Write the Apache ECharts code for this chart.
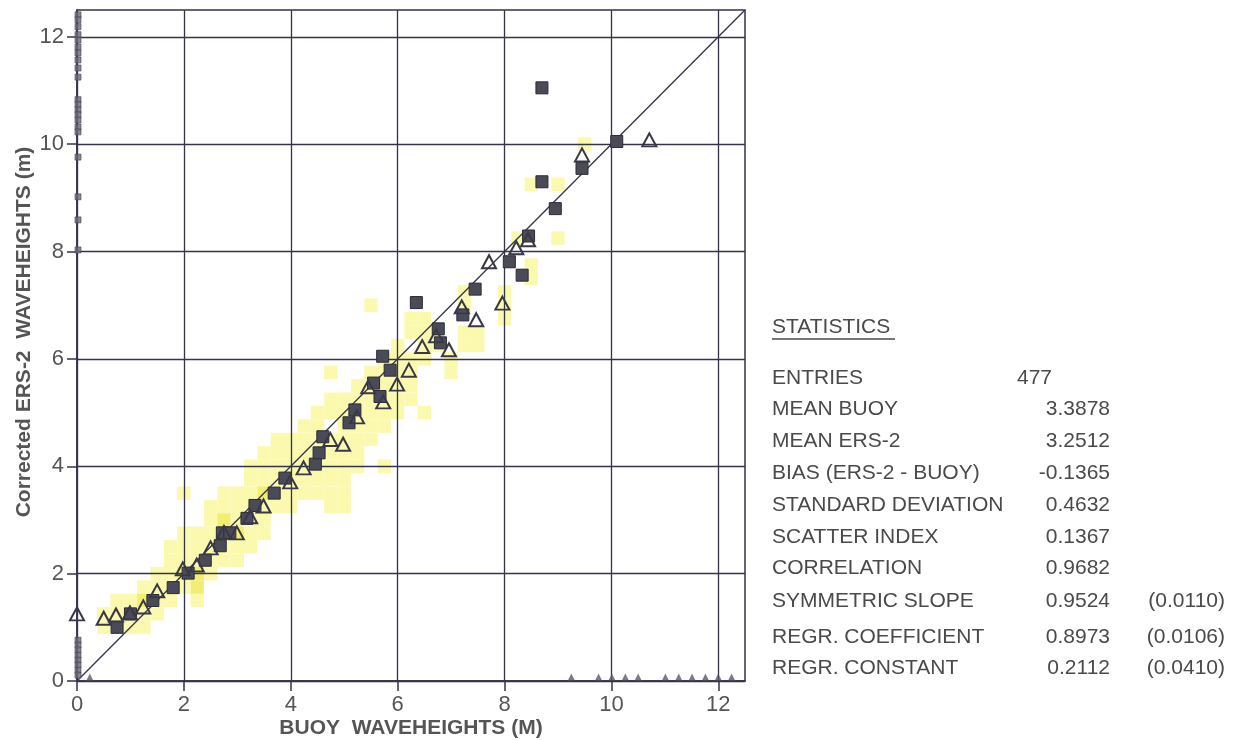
<!DOCTYPE html>
<html>
<head>
<meta charset="utf-8">
<script src="https://cdn.jsdelivr.net/npm/echarts@6/dist/echarts.min.js"></script>
<style>
html,body{margin:0;padding:0;background:#fff;}
#chart{width:1233px;height:740px;}
</style>
</head>
<body>
<div id="chart"></div>
<script>
// ---------------- data ----------------
const axisTicks = [0, 2, 4, 6, 8, 10, 12];
const axisMax = 12.5;
const binSize = 0.25;

// density cells (bin centres), pale and deeper yellow
const cellsPale = [
  [0.5,1.0],[0.5,1.25],
  [0.75,1.0],[0.75,1.25],[0.75,1.5],
  [1.0,1.0],[1.0,1.5],
  [1.25,1.0],[1.25,1.25],[1.25,1.75],
  [1.5,1.25],[1.5,1.5],[1.5,1.75],[1.5,2.0],
  [1.75,1.5],[1.75,1.75],[1.75,2.0],[1.75,2.25],[1.75,2.5],
  [2.0,1.75],[2.0,2.25],[2.0,2.5],[2.0,2.75],[2.0,3.5],
  [2.25,1.5],[2.25,2.25],[2.25,2.5],[2.25,2.75],
  [2.5,2.0],[2.5,2.25],[2.5,2.5],[2.5,2.75],[2.5,3.0],[2.5,3.25],
  [2.75,2.25],[2.75,2.5],[2.75,3.25],[2.75,3.5],
  [3.0,2.25],[3.0,2.5],[3.0,3.0],[3.0,3.25],[3.0,3.5],
  [3.25,2.5],[3.25,2.75],[3.25,3.0],[3.25,3.25],[3.25,3.5],[3.25,3.75],[3.25,4.0],
  [3.5,2.75],[3.5,3.0],[3.5,3.25],[3.5,3.75],[3.5,4.0],[3.5,4.25],
  [3.75,3.25],[3.75,3.5],[3.75,3.75],[3.75,4.0],[3.75,4.25],[3.75,4.5],
  [4.0,3.25],[4.0,3.5],[4.0,3.75],[4.0,4.0],[4.0,4.25],[4.0,4.5],
  [4.25,3.5],[4.25,3.75],[4.25,4.0],[4.25,4.25],[4.25,4.5],[4.25,4.75],
  [4.5,3.5],[4.5,3.75],[4.5,4.0],[4.5,4.25],[4.5,4.5],[4.5,4.75],[4.5,5.0],
  [4.75,3.25],[4.75,3.5],[4.75,3.75],[4.75,4.0],[4.75,4.25],[4.75,4.5],[4.75,5.0],[4.75,5.25],[4.75,5.75],
  [5.0,3.25],[5.0,3.5],[5.0,3.75],[5.0,4.0],[5.0,4.25],[5.0,4.5],[5.0,4.75],[5.0,5.0],[5.0,5.25],
  [5.25,4.0],[5.25,4.25],[5.25,4.5],[5.25,4.75],[5.25,5.0],[5.25,5.25],[5.25,5.5],
  [5.5,4.5],[5.5,4.75],[5.5,5.0],[5.5,5.25],[5.5,5.5],[5.5,5.75],[5.5,7.0],
  [5.75,4.0],[5.75,4.75],[5.75,5.0],[5.75,5.25],[5.75,5.5],[5.75,5.75],[5.75,6.0],
  [6.0,5.0],[6.0,5.25],[6.0,5.5],[6.0,5.75],[6.0,6.0],[6.0,6.25],
  [6.25,5.25],[6.25,5.5],[6.25,5.75],[6.25,6.0],[6.25,6.5],[6.25,6.75],
  [6.5,5.0],[6.5,6.0],[6.5,6.25],[6.5,6.5],[6.5,6.75],
  [6.75,6.25],[6.75,6.5],
  [7.0,5.75],[7.0,6.0],
  [7.25,6.25],[7.25,6.5],[7.25,7.0],[7.25,7.25],
  [7.5,6.25],[7.5,6.5],
  [8.0,6.75],[8.0,7.0],[8.0,7.25],
  [8.25,8.25],
  [8.5,7.5],[8.5,7.75],[8.5,9.25],
  [9.0,8.25],[9.0,9.25],
  [9.5,10.0]
];
const cellsDeep = [
  [1.0,1.25],[1.25,1.5],[2.0,2.0],[2.25,1.75],[2.25,2.0],
  [2.75,2.75],[2.75,3.0],[3.0,2.75],[3.5,3.5]
];

// quantile markers: filled squares and open triangles
const squares = [
  [0.75,1.0],[1.0,1.25],[1.42,1.5],[1.8,1.74],[2.08,2.01],[2.4,2.25],[2.68,2.52],
  [2.72,2.76],[2.86,2.76],[3.18,3.03],[3.33,3.27],[3.69,3.5],[3.89,3.78],[4.46,4.04],
  [4.53,4.25],[4.6,4.55],[5.09,4.81],[5.2,5.05],[5.67,5.3],[5.55,5.55],[5.86,5.79],
  [5.72,6.05],[6.35,7.05],[6.76,6.56],[6.8,6.3],[7.22,6.82],[7.45,7.3],[8.09,7.81],
  [8.33,7.56],[8.45,8.29],[8.95,8.8],[8.7,9.3],[8.7,11.05],[9.45,9.55],[10.1,10.05]
];
const triangles = [
  [0.0,1.25],[0.5,1.17],[0.73,1.23],[0.99,1.27],[1.24,1.38],[1.5,1.68],[1.98,2.09],
  [2.24,2.16],[2.5,2.48],[2.75,2.77],[2.99,2.76],[3.24,3.06],[3.49,3.26],[3.99,3.71],
  [4.24,3.97],[4.74,4.5],[4.98,4.41],[5.24,4.92],[5.45,5.48],[5.73,5.2],[5.99,5.53],
  [6.21,5.79],[6.46,6.23],[6.72,6.43],[6.96,6.17],[7.2,6.97],[7.47,6.73],[7.71,7.81],
  [7.96,7.04],[8.22,8.07],[8.44,8.22],[9.45,9.8],[10.71,10.08]
];

// marginal marks along the axes
const yEdgeValues = [12.41,12.32,12.19,12.04,11.94,11.81,11.7,11.57,11.42,11.25,
  10.83,10.74,10.64,10.55,10.45,10.32,10.23,9.76,9.02,8.59,8.03,
  0.76,0.67,0.58,0.48,0.39,0.3,0.2,0.11];
const xEdgeValues = [0.24,9.25,9.76,10.01,10.26,10.5,11.01,11.26,11.51,11.76,12.0,12.25];

const diagonal = [[0,0],[12.5,12.5]];

const statLabels = ['ENTRIES','MEAN BUOY','MEAN ERS-2','BIAS (ERS-2 - BUOY)','STANDARD DEVIATION',
  'SCATTER INDEX','CORRELATION','SYMMETRIC SLOPE','REGR. COEFFICIENT','REGR. CONSTANT'];
const statValues = ['477','3.3878','3.2512','-0.1365','0.4632','0.1367','0.9682','0.9524','0.8973','0.2112'];
const statErrors = ['','','','','','','','(0.0110)','(0.0106)','(0.0410)'];

// ---------------- chart ----------------
const ink = '#33334a';
const textGrey = '#4a4a4a';
const font = '"Liberation Sans", Arial, Helvetica, sans-serif';

function cellRenderer(fill) {
  return function (params, api) {
    const x = api.value(0), y = api.value(1), h = binSize / 2;
    const p1 = api.coord([x - h, y + h]);
    const p2 = api.coord([x + h, y - h]);
    return {
      type: 'rect',
      shape: { x: p1[0], y: p1[1], width: p2[0] - p1[0], height: p2[1] - p1[1] },
      style: { fill: fill }
    };
  };
}

function axisCommon() {
  return {
    type: 'value', min: 0, max: axisMax, interval: 2, z: 1,
    axisLine: { show: true, lineStyle: { color: ink, width: 1.5 } },
    axisTick: { show: true, length: 10, inside: false, customValues: axisTicks, lineStyle: { color: ink, width: 1.5 } },
    axisLabel: { customValues: axisTicks, fontSize: 22, color: '#555', fontFamily: font, margin: 13,
      formatter: v => (axisTicks.indexOf(v) >= 0 ? String(v) : '') },
    splitLine: { show: true, lineStyle: { color: ink, width: 1.3 } }
  };
}

const statTop = [378, 409, 441, 473, 505, 537, 568, 601, 637, 668];
const graphics = [
  { type: 'text', left: 772, top: 317, style: { text: 'STATISTICS', font: '21px ' + font, fill: textGrey } },
  { type: 'line', shape: { x1: 772, y1: 339, x2: 895, y2: 339 }, style: { stroke: textGrey, lineWidth: 1.3 } },
  { type: 'text', x: 411, y: 728, style: { text: 'BUOY  WAVEHEIGHTS (M)', font: 'bold 21px ' + font, fill: '#555',
      textAlign: 'center', textVerticalAlign: 'middle' } },
  { type: 'text', x: 24, y: 332, rotation: Math.PI / 2, style: { text: 'Corrected ERS-2  WAVEHEIGHTS (m)',
      font: 'bold 21px ' + font, fill: '#555', textAlign: 'center', textVerticalAlign: 'middle' } }
];
statLabels.forEach((lab, i) => {
  graphics.push({ type: 'text', x: 772, y: statTop[i], style: { text: lab, font: '21px ' + font, fill: textGrey,
    textAlign: 'left', textVerticalAlign: 'middle' } });
  if (i === 0) {
    graphics.push({ type: 'text', x: 1017, y: statTop[i], style: { text: statValues[i], font: '21px ' + font, fill: textGrey,
      textAlign: 'left', textVerticalAlign: 'middle' } });
  } else {
    graphics.push({ type: 'text', x: 1110, y: statTop[i], style: { text: statValues[i], font: '21px ' + font, fill: textGrey,
      textAlign: 'right', textVerticalAlign: 'middle' } });
  }
  if (statErrors[i]) {
    graphics.push({ type: 'text', x: 1225, y: statTop[i], style: { text: statErrors[i], font: '21px ' + font, fill: textGrey,
      textAlign: 'right', textVerticalAlign: 'middle' } });
  }
});

const chart = echarts.init(document.getElementById('chart'), null, { renderer: 'canvas' });
chart.setOption({
  animation: false,
  backgroundColor: '#ffffff',
  grid: { left: 77, top: 10, width: 668, height: 671, show: true, borderColor: ink, borderWidth: 1.5, backgroundColor: 'transparent', z: 1 },
  xAxis: axisCommon(),
  yAxis: axisCommon(),
  graphic: graphics,
  series: [
    { type: 'custom', renderItem: cellRenderer('#fbf9ad'), data: cellsPale, z: 0, silent: true, clip: true },
    { type: 'custom', renderItem: cellRenderer('#f2ee72'), data: cellsDeep, z: 0, silent: true, clip: true },
    { type: 'line', data: diagonal, symbol: 'none', z: 3, lineStyle: { color: ink, width: 1.3 }, silent: true },
    { type: 'scatter', data: squares, symbol: 'rect', symbolSize: 12, z: 4,
      itemStyle: { color: '#4b4b58', borderColor: '#2a2a38', borderWidth: 1, opacity: 1 } },
    { type: 'scatter', data: triangles, symbol: 'triangle', symbolSize: [14, 13], z: 5, clip: true,
      itemStyle: { color: 'rgba(0,0,0,0)', borderColor: '#383848', borderWidth: 2, opacity: 1 } },
    { type: 'scatter', data: yEdgeValues.map(v => [0, v]), symbol: 'rect', symbolSize: [6, 6], symbolOffset: [1, 0], z: 4, clip: false,
      itemStyle: { color: '#6a6a78', borderColor: '#4a4a58', borderWidth: 0.8 } },
    { type: 'scatter', data: xEdgeValues.map(v => [v, 0]), symbol: 'triangle', symbolSize: [7, 7], symbolOffset: [0, -4], z: 4, clip: false,
      itemStyle: { color: '#5a5a68' } }
  ]
});
</script>
</body>
</html>
